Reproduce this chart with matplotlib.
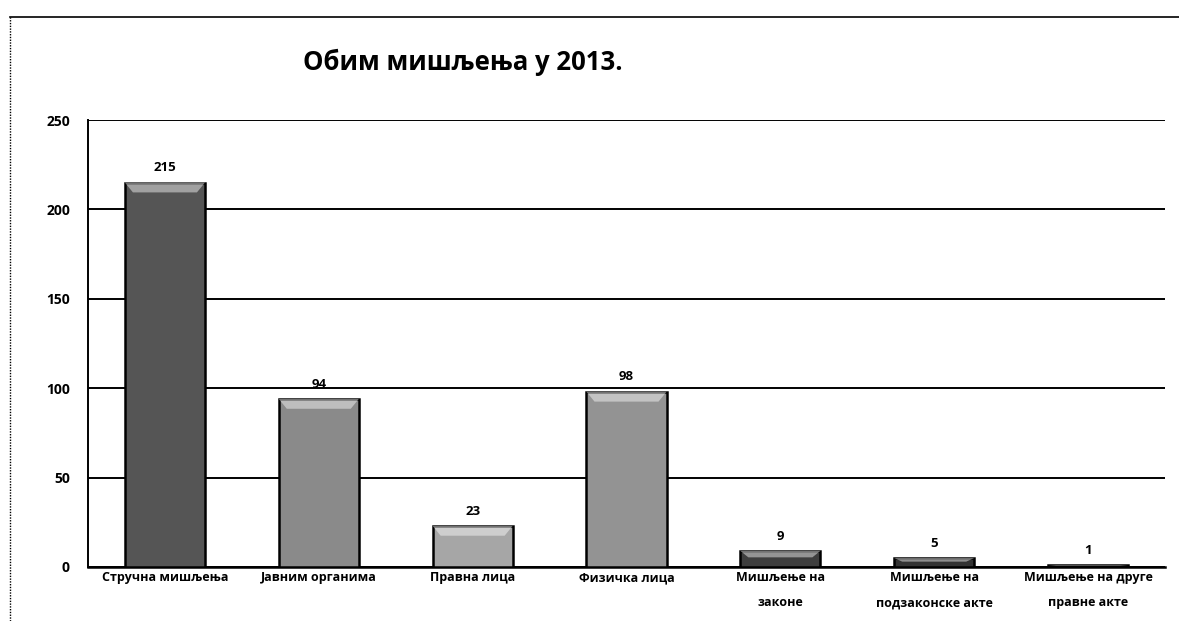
import matplotlib
matplotlib.use("Agg")
import matplotlib.pyplot as plt
from matplotlib.lines import Line2D
from matplotlib.patches import Polygon

plt.rcParams['font.family'] = ['Open Sans', 'DejaVu Sans']

title = "Обим мишљења у 2013."
categories = ["Стручна мишљења", "Јавним органима", "Правна лица", "Физичка лица",
              "Мишљење на\nзаконе", "Мишљење на\nподзаконске акте", "Мишљење на друге\nправне акте"]
values = [215, 94, 23, 98, 9, 5, 1]
yticks = [0, 50, 100, 150, 200, 250]
colors = ["#555555", "#8a8a8a", "#a6a6a6", "#939393", "#3e3e3e", "#333333", "#2a2a2a"]

fig = plt.figure(figsize=(11.79, 6.21), dpi=100)
ax = fig.add_axes([88/1179, (621-567)/621, (1165-88)/1179, 447/621])

x = range(len(categories))
bars = ax.bar(x, values, width=0.52, color=colors, edgecolor="black", linewidth=1.8, zorder=3)

# bevel highlight on top of each bar
for b in bars:
    x0, w, h = b.get_x(), b.get_width(), b.get_height()
    bh = min(5.5, h * 0.4)
    inset = min(0.06, w * 0.1)
    poly = Polygon([(x0, h), (x0 + w, h), (x0 + w - inset, h - bh), (x0 + inset, h - bh)],
                   closed=True, facecolor="white", alpha=0.45, edgecolor="none", zorder=4)
    ax.add_patch(poly)

for xi, v in zip(x, values):
    ax.annotate(str(v), (xi, v), xytext=(0, 6), textcoords="offset points",
                ha="center", va="bottom", fontsize=9.5, fontweight="bold", zorder=5)

ax.set_xlim(-0.5, len(categories) - 0.5)
ax.set_ylim(0, 250)
ax.set_yticks(yticks)
ax.set_yticklabels([str(t) for t in yticks], fontsize=10, fontweight="bold")
ax.tick_params(axis="y", length=0, pad=13)
ax.set_xticks(list(x))
ax.set_xticklabels(categories, fontsize=9, fontweight="bold", linespacing=2.2, va="top")
ax.tick_params(axis="x", length=0, pad=3)
ax.yaxis.grid(True, color="black", linewidth=1.4, zorder=0)
ax.set_axisbelow(True)
for s in ["top", "right"]:
    ax.spines[s].set_visible(False)
ax.spines["left"].set_linewidth(1.4)
ax.spines["bottom"].set_linewidth(1.8)

fig.text(463/1179, 1 - 62/621, title, ha="center", va="center", fontsize=18.5, fontweight="bold")

# outer frame lines
fig.add_artist(Line2D([10/1179, 1.0], [1 - 17/621] * 2, color="black", linewidth=1.2))
fig.add_artist(Line2D([10/1179] * 2, [0, 1 - 17/621], color="black", linewidth=1.0, linestyle=(0, (1, 1))))

fig.savefig("out.png", dpi=100)
